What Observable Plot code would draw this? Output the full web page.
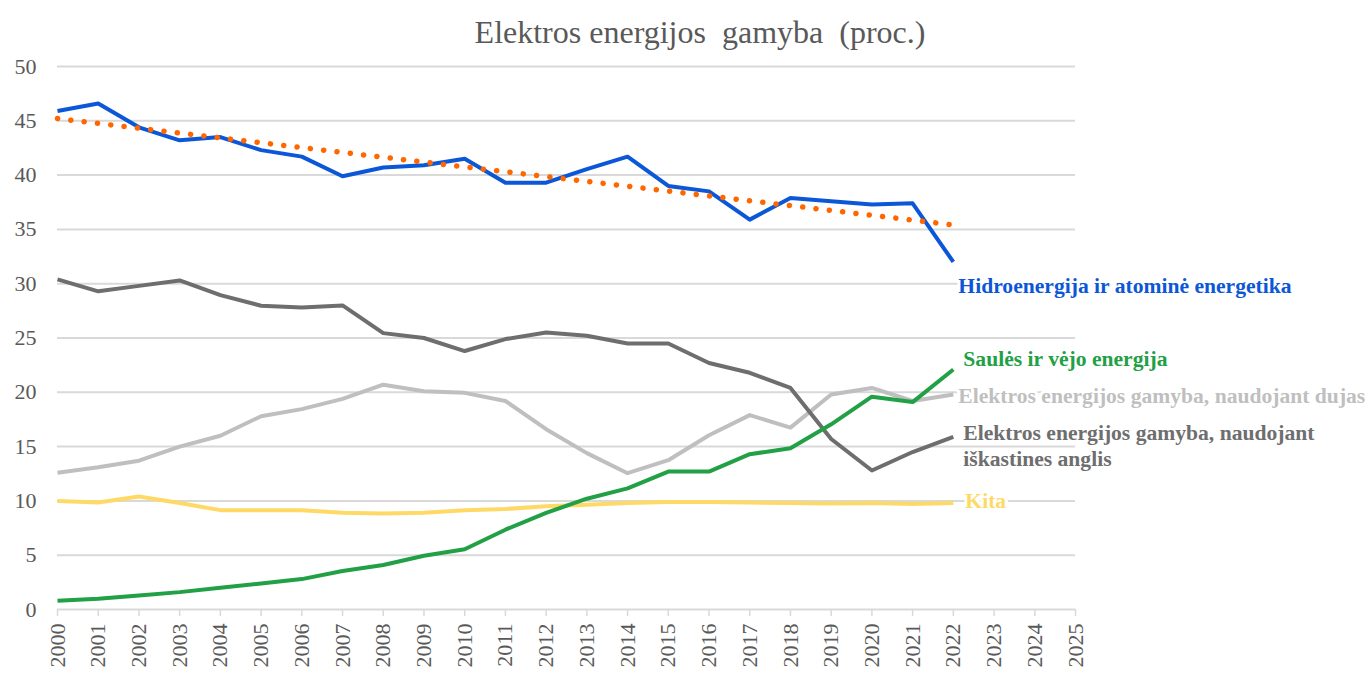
<!DOCTYPE html>
<html><head><meta charset="utf-8">
<script src="https://cdn.jsdelivr.net/npm/d3@7"></script>
<script src="https://cdn.jsdelivr.net/npm/@observablehq/plot@0.6"></script>
<style>
body{margin:0;background:#fff;}
#wrap{position:relative;width:1368px;height:673px;overflow:hidden;}
#title{position:absolute;left:700px;top:16px;transform:translateX(-50%);white-space:pre;font-family:"Liberation Serif","DejaVu Serif";font-size:32px;line-height:1;color:#595959;}
</style>
</head><body>
<div id="wrap"><div id="title">Elektros energijos  gamyba  (proc.)</div><div id="chart"></div></div>
<script>
const years = [2000,2001,2002,2003,2004,2005,2006,2007,2008,2009,2010,2011,2012,2013,2014,2015,2016,2017,2018,2019,2020,2021,2022];
const xTicks = [2000,2001,2002,2003,2004,2005,2006,2007,2008,2009,2010,2011,2012,2013,2014,2015,2016,2017,2018,2019,2020,2021,2022,2023,2024,2025];
const yTicks = [0,5,10,15,20,25,30,35,40,45,50];

const hydroNuclear = [45.9,46.6,44.4,43.2,43.5,42.3,41.7,39.9,40.7,40.9,41.5,39.3,39.3,40.55,41.7,39.0,38.5,35.9,37.9,37.6,37.3,37.4,32.0];
const coal = [30.4,29.3,29.8,30.3,28.95,27.97,27.8,28.0,25.45,25.0,23.8,24.9,25.5,25.2,24.5,24.5,22.7,21.8,20.4,15.7,12.8,14.5,15.9];
const gas = [12.6,13.1,13.7,15.0,16.0,17.8,18.45,19.4,20.7,20.1,19.95,19.2,16.6,14.4,12.55,13.75,16.05,17.9,16.75,19.8,20.4,19.2,19.8];
const other = [10.0,9.85,10.4,9.8,9.15,9.15,9.15,8.9,8.85,8.9,9.15,9.25,9.5,9.65,9.8,9.9,9.9,9.85,9.8,9.75,9.8,9.72,9.8];
const solarWind = [0.8,1.0,1.3,1.6,2.0,2.4,2.8,3.55,4.1,4.95,5.55,7.35,8.9,10.2,11.15,12.7,12.7,14.3,14.85,17.05,19.6,19.1,22.1];

const seriesNames = ["Elektros energijos gamyba, naudojant dujas","Elektros energijos gamyba, naudojant\niškastines anglis","Kita","Saulės ir vėjo energija","Hidroenergija ir atominė energetika"];
const seriesValues = [gas, coal, other, solarWind, hydroNuclear];
const seriesColors = ["#bfbfbf","#6e6e6e","#ffd966","#22a045","#0b57d8"];
const labelY = [19.75, 15.15, 10.1, 23.2, 29.9];
const labelDx = [5, 10, 12, 10, 5];
const trendColor = "#ff6600";

const rows = [];
seriesNames.forEach((name, i) => years.forEach((yr, j) => rows.push({series: name, year: yr, value: seriesValues[i][j]})));
const hydroRows = years.map((yr, j) => ({year: yr, value: hydroNuclear[j]}));
const labels = seriesNames.map((name, i) => ({name, year: years[years.length-1], y: labelY[i], color: seriesColors[i], dx: labelDx[i]}));

const lineMarks = seriesNames.map((name, i) =>
  Plot.line(rows.filter(r => r.series === name), {x: "year", y: "value", stroke: seriesColors[i], strokeWidth: 4, strokeLinejoin: "round", strokeLinecap: "butt"})
);
const labelMarks = labels.map(l =>
  Plot.text([l], {x: "year", y: "y", text: "name", fill: l.color, dx: l.dx, textAnchor: "start", fontWeight: "bold", fontSize: 21.6, lineHeight: 1.2, stroke: "white", strokeWidth: 6, paintOrder: "stroke"})
);

const chart = Plot.plot({
  width: 1368, height: 673,
  marginLeft: 57, marginRight: 293, marginTop: 66, marginBottom: 64,
  style: {fontFamily: "\"Liberation Serif\", \"DejaVu Serif\"", fontSize: "22px", color: "#595959", background: "transparent", overflow: "visible"},
  x: {domain: [2000, 2025]},
  y: {domain: [0, 50]},
  marks: [
    Plot.gridY(yTicks.filter(d => d > 0), {stroke: "#d9d9d9", strokeOpacity: 1, strokeWidth: 2}),
    Plot.ruleY([0], {stroke: "#d9d9d9", strokeWidth: 2}),
    Plot.axisY(yTicks, {tickSize: 0, tickPadding: 21, fontSize: 22, fill: "#595959", label: null}),
    Plot.axisX(xTicks, {tickFormat: d => String(d), tickRotate: -90, tickSize: 7, stroke: "#d9d9d9", strokeWidth: 1.5, tickPadding: 7, fontSize: 22, fill: "#595959", label: null}),
    ...lineMarks,
    Plot.linearRegressionY(hydroRows, {x: "year", y: "value", stroke: trendColor, strokeWidth: 5.5, strokeDasharray: "0.1 13.3", strokeLinecap: "round", ci: 0}),
    ...labelMarks
  ]
});
document.getElementById("chart").appendChild(chart);
</script>
</body></html>
